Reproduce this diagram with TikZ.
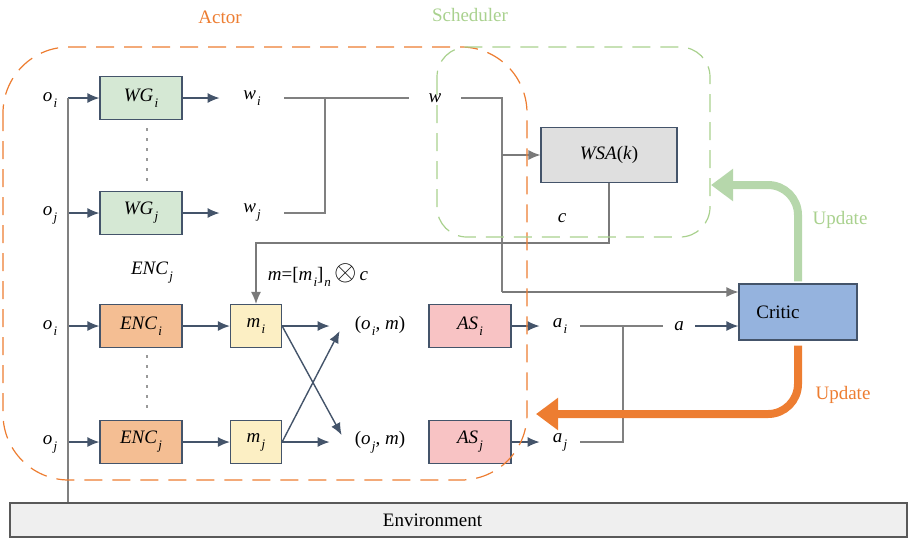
\documentclass[tikz,border=0pt]{standalone}
\usepackage{fontspec}
\setmainfont{Liberation Serif}
\usetikzlibrary{calc}
\usetikzlibrary{positioning}
\usetikzlibrary{arrows.meta}

\definecolor{slate}{HTML}{44546A}
\definecolor{linegrey}{HTML}{808080}
\definecolor{darkgrey}{HTML}{595959}
\definecolor{actorc}{HTML}{ED7D31}
\definecolor{schedc}{HTML}{A9D18E}
\definecolor{updgreen}{HTML}{B6D7AB}
\definecolor{wgfill}{HTML}{D5E8D4}
\definecolor{encfill}{HTML}{F4BE93}
\definecolor{mfill}{HTML}{FCEFC4}
\definecolor{asfill}{HTML}{F8C3C4}
\definecolor{wsafill}{HTML}{DFDFDF}
\definecolor{criticfill}{HTML}{95B3DE}
\definecolor{envfill}{HTML}{EFEFEF}

\newcommand{\idx}[2]{\textit{#1}\kern0.6pt\raisebox{-3pt}{\fontsize{6.5}{7}\selectfont\textit{#2}}}

\begin{document}
\begin{tikzpicture}[x=0.5pt, y=-0.5pt,
  font=\fontsize{9.5}{11.5}\selectfont,
  lbl/.style={inner sep=0pt},
  block/.style={draw=slate, line width=0.6pt, inner sep=0pt,
    minimum width=41pt, minimum height=21.5pt},
  wgbox/.style={block, fill=wgfill},
  encbox/.style={block, fill=encfill},
  mbox/.style={block, fill=mfill, minimum width=25.5pt},
  asbox/.style={block, fill=asfill},
  arr/.style={draw=slate, line width=0.7pt, -{Latex[length=6pt,width=5pt]}},
  gline/.style={draw=linegrey, line width=0.6pt},
  garr/.style={draw=darkgrey!80, line width=0.6pt, -{Latex[length=6pt,width=5pt]}},
  dotline/.style={draw=linegrey!80, line width=0.6pt, dash pattern=on 1.5pt off 3.5pt},
  frame/.style={line width=0.6pt, dash pattern=on 9pt off 5pt},
  update/.style={line width=4pt, rounded corners=15pt,
    -{Triangle[length=11pt,width=15.5pt]}}
  ]
  \useasboundingbox (0,0) rectangle (909,538);

  \node[lbl, text=actorc] (actorlbl) at (220,17) {Actor};
  \node[lbl, text=schedc] (schedlbl) at (470,15) {Scheduler};

  \coordinate (trunk) at (68,98);
  \foreach \s/\wy/\ey in {i/98/326, j/213/442}{
    \node[lbl] (ow\s) at (50,\wy+2) {\idx{o}{\s}};
    \node[wgbox] (wg\s) at (141,\wy) {\idx{WG}{\s}};
    \node[lbl, minimum width=32pt] (w\s) at (252,\wy) {\idx{w}{\s}};
    \draw[arr] (wg\s.west -| trunk) -- (wg\s);
    \draw[arr] (wg\s) -- (w\s);

    \node[lbl] (oe\s) at (50,\ey+2) {\idx{o}{\s}};
    \node[encbox] (enc\s) at (141,\ey) {\idx{ENC}{\s}};
    \node[mbox] (m\s) at (256,\ey) {\idx{m}{\s}};
    \node[lbl, minimum width=50pt] (om\s) at (380,\ey) {(\idx{o}{\s}, \textit{m})};
    \node[asbox] (as\s) at (470,\ey) {\idx{AS}{\s}};
    \node[lbl, minimum width=20pt] (a\s) at (560,\ey) {\idx{a}{\s}};
    \draw[arr] (enc\s.west -| trunk) -- (enc\s);
    \draw[arr] (enc\s) -- (m\s);
    \draw[arr] (m\s) -- (om\s);
    \draw[arr] (as\s) -- (a\s);
  }
  \draw[dotline] ([xshift=3pt,yshift=-4pt]wgi.south) -- ([xshift=3pt,yshift=5pt]wgj.north);
  \draw[dotline] ([xshift=3pt,yshift=-3.5pt]enci.south) -- ([xshift=3pt,yshift=5pt]encj.north);

  % crossing messages
  \draw[arr] (mi.east) -- ([shift={(12,-7)}]omj.west);
  \draw[arr] (mj.east) -- ([shift={(10,5)}]omi.west);

  % scheduler side
  \node[lbl, minimum width=26pt] (w) at (435,98) {\textit{w}};
  \coordinate (wjoin) at (325,98);
  \draw[gline] (wi) -- (w);
  \draw[gline] (wj) -| (wjoin);
  \node[block, fill=wsafill, minimum width=68pt, minimum height=27.5pt] (wsa) at (609,155)
    {\textit{WSA}(\textit{k})};
  \node[lbl] (c) at (562,218) {\textit{c}};
  \node[block, fill=criticfill, minimum width=59pt, minimum height=28pt] (critic) at (798,312)
    {\hspace*{-20pt}Critic};
  \coordinate (wdrop) at (502,292);
  \draw[gline] (w) -| (wdrop);
  \draw[garr] (wdrop |- wsa) -- (wsa);
  \draw[garr] (wdrop) -- (wdrop -| critic.west);
  \coordinate (cbend) at (256,243);
  \draw[garr] (wsa) |- (cbend) -- (mi);

  \node[lbl] (enclbl) at (152,273) {\idx{ENC}{j}};
  \node[lbl] (mform) at (318,275)
    {\textit{m}=[\idx{m}{i}]\kern0.5pt\raisebox{-3pt}{\fontsize{6.5}{7}\selectfont\textit{n}}\,{\fontsize{14}{14}\selectfont$\otimes$}\,\textit{c}};

  % actions to critic
  \node[lbl, minimum width=16pt] (a) at (679,326) {\textit{a}};
  \coordinate (ajoin) at (623,326);
  \draw[gline] (ai) -- (a);
  \draw[gline] (aj) -| (ajoin);
  \draw[arr] (a) -- (a -| critic.west);

  \node[block, draw=darkgrey, fill=envfill, minimum width=448.5pt, minimum height=17pt] (env)
    at (458.5,520) {\hspace*{-26pt}Environment};
  \draw[gline] (trunk) -- (trunk |- env.north);

  \draw[frame, draw=actorc, rounded corners=33pt] (3,47) rectangle (527,480);
  \draw[frame, draw=schedc, rounded corners=15pt] (437,47) rectangle (710,237);

  % update feedback
  \coordinate (schedin) at (711,185);
  \coordinate (actorin) at (536,414);
  \draw[update, draw=updgreen] ([yshift=1pt]critic.north) |- (schedin);
  \draw[update, draw=actorc] ([yshift=-2.5pt]critic.south) |- (actorin);
  \node[lbl, text=schedc] (updg) at (840,220) {Update};
  \node[lbl, text=actorc] (updo) at (843,395) {Update};
\end{tikzpicture}
\end{document}
